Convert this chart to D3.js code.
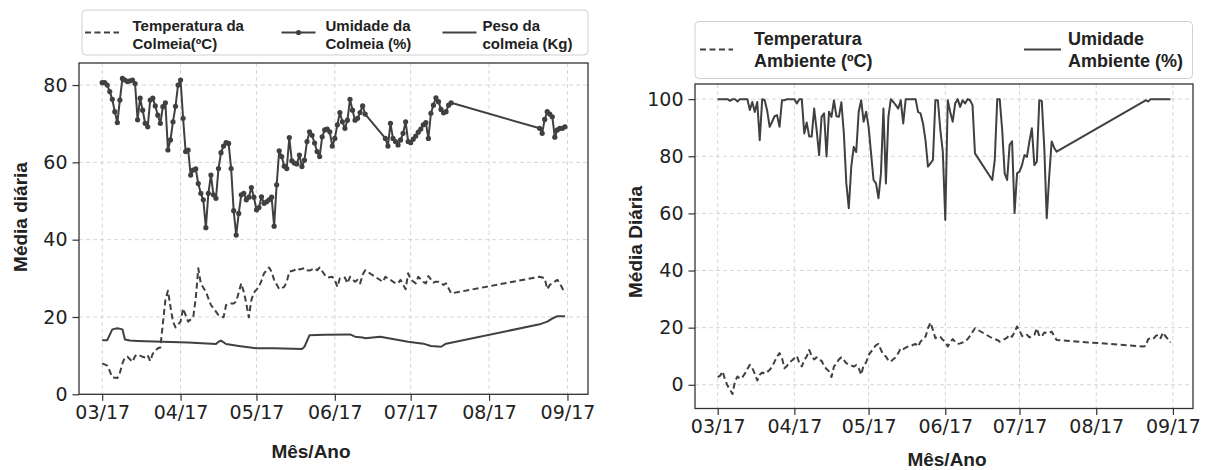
<!DOCTYPE html>
<html>
<head>
<meta charset="utf-8">
<script src="https://cdn.jsdelivr.net/npm/d3@7"></script>
<style>
  body { margin: 0; background: #fff; }
  svg { display: block; }
</style>
</head>
<body>
<svg id="chart" width="1213" height="470"></svg>
<script>
// Daily means from 1 March 2017; each pair is [days since 1 March, value].
const startDate = new Date(2017, 2, 1);

const monthTicks = ["2017-03-01", "2017-04-01", "2017-05-01", "2017-06-01", "2017-07-01", "2017-08-01", "2017-09-01"];
const monthLabels = ["03/17", "04/17", "05/17", "06/17", "07/17", "08/17", "09/17"];
const hiveTicks = [0, 20, 40, 60, 80];
const ambientTicks = [0, 20, 40, 60, 80, 100];

// Hive humidity (%)
const hiveHumidity = [
  [0,80.6],[1,80.6],[2,80.0],[3,78.3],[4,76.3],[5,73.1],[6,70.3],[7,76.1],[8,81.7],[9,81.3],
  [10,80.9],[11,81.1],[12,81.3],[13,80.4],[14,71.0],[15,76.6],[16,73.5],[17,70.1],[18,69.2],[19,76.1],
  [20,76.6],[21,74.6],[22,72.2],[23,70.1],[24,74.4],[25,75.4],[26,63.2],[27,65.8],[28,70.5],[29,74.5],
  [30,80.0],[31,81.3],[32,71.4],[33,62.8],[34,63.2],[35,56.7],[36,58.0],[37,58.3],[38,54.5],[39,52.0],
  [40,50.3],[41,43.1],[42,52.0],[43,56.7],[44,51.6],[45,50.7],[46,58.4],[47,62.5],[48,64.2],[49,65.1],
  [50,64.9],[51,58.4],[52,47.5],[53,41.2],[54,46.8],[55,51.6],[56,52.0],[57,50.3],[58,51.0],[59,53.5],
  [60,51.0],[61,47.7],[62,48.3],[63,51.1],[64,49.4],[65,49.8],[66,50.3],[67,51.0],[68,43.5],[69,54.2],
  [70,63.0],[71,61.5],[72,59.0],[73,58.4],[74,66.4],[75,60.4],[76,59.8],[77,59.6],[78,61.9],[79,58.9],
  [80,60.6],[81,65.4],[82,67.9],[83,67.0],[84,65.0],[85,62.8],[86,61.5],[87,66.6],[88,68.4],[89,68.6],
  [90,67.9],[91,64.2],[92,66.2],[93,69.7],[94,72.9],[95,70.5],[96,68.8],[97,70.9],[98,76.3],[99,73.5],
  [100,70.9],[101,71.4],[102,72.9],[103,74.6],[104,72.5],
  [112,66.2],[113,64.2],[114,70.1],[115,66.2],[116,65.4],[117,64.5],[118,65.8],[119,67.5],
  [120,70.5],[121,65.4],[122,65.1],[123,66.0],[124,66.8],[125,67.8],[126,68.6],[127,69.7],[128,70.3],[129,66.2],
  [130,72.7],[131,74.8],[132,76.7],[133,75.7],[134,73.7],[135,72.8],[136,73.1],[137,74.8],[138,75.4],
  [173,68.8],[174,67.5],[175,71.1],[176,73.1],[177,72.5],[178,71.8],[179,66.5],[180,68.4],[181,68.8],[182,68.8],[183,69.2]
];

// Hive temperature (ºC)
const hiveTemperature = [
  [0,8.0],[2,7.4],[3,6.0],[4,4.4],[6,4.2],[7,5.6],[8,8.0],[9,9.5],[10,9.7],[12,8.4],[13,9.9],[14,10.3],
  [16,9.7],[17,9.5],[18,10.1],[19,8.6],[20,10.5],[22,11.9],[23,12.1],[24,18.3],[25,24.4],[26,26.8],
  [27,22.7],[28,18.8],[29,17.3],[31,18.8],[32,22.2],[33,20.5],[34,18.8],[36,19.9],[37,24.8],[38,32.6],
  [39,28.7],[41,26.5],[42,24.8],[43,23.1],[45,21.4],[46,20.5],[48,19.9],[49,23.1],[51,23.5],[52,23.5],
  [53,24.0],[55,28.7],[56,26.5],[57,23.5],[58,19.9],[59,24.4],[60,26.3],[62,27.8],[63,29.4],[64,31.3],
  [66,32.8],[67,31.7],[68,29.6],[70,27.2],[72,27.8],[73,29.1],[74,31.7],[76,32.1],[77,32.6],[78,32.3],
  [80,32.6],[81,32.1],[82,32.0],[84,32.6],[85,32.1],[86,32.8],[88,30.9],[89,30.2],[91,30.4],[92,29.6],
  [93,27.8],[94,30.0],[96,30.2],[97,28.7],[98,30.4],[100,29.1],[101,29.6],[102,28.7],[103,30.9],[104,32.1],
  [111,29.1],[112,30.4],[114,29.6],[116,28.7],[117,28.7],[118,29.6],[120,27.2],[121,31.3],[122,29.7],
  [124,28.7],[125,30.4],[127,29.1],[128,28.7],[129,30.6],[131,28.9],[132,29.1],[133,29.1],[135,28.3],
  [136,28.7],[137,27.4],[138,26.1],
  [173,30.4],[175,30.0],[176,27.2],[177,28.3],[178,28.7],[180,29.6],[181,28.7],[183,26.1]
];

// Hive weight (kg)
const hiveWeight = [
  [0,14.0],[2,14.0],[4,16.8],[6,17.1],[8,16.8],[9,14.2],[11,13.9],[14,13.8],[24,13.6],[34,13.4],
  [45,13.0],[46,13.6],[47,13.9],[49,13.0],[54,12.5],[61,11.9],[68,11.9],[79,11.7],[80,12.3],[82,15.3],
  [88,15.4],[98,15.5],[100,14.9],[103,14.7],[104,14.5],[110,14.9],[116,14.2],[121,13.6],[127,13.1],
  [130,12.5],[134,12.3],[136,13.1],
  [173,18.1],[176,18.8],[178,19.6],[180,20.2],[183,20.2]
];

// Ambient temperature (ºC)
const ambientTemperature = [
  [0,2.7],[1,3.2],[2,4.7],[3,1.7],[4,-0.3],[5,-1.7],[6,-3.2],[7,1.2],[8,2.9],[9,2.1],
  [10,2.7],[11,3.9],[12,5.5],[13,7.0],[14,5.8],[15,3.9],[16,1.5],[17,3.5],[18,4.3],[19,3.9],
  [20,4.5],[21,5.2],[22,6.4],[23,8.1],[24,9.9],[25,11.1],[26,9.3],[27,5.8],[28,6.6],[29,7.8],
  [30,8.5],[31,9.3],[32,10.1],[33,7.6],[34,6.4],[35,8.7],[36,9.9],[37,12.2],[38,10.1],[39,8.9],
  [40,9.6],[41,8.7],[42,8.4],[43,6.6],[44,5.5],[45,4.7],[46,2.7],[47,6.4],[48,7.5],[49,8.9],
  [50,9.6],[51,8.7],[52,7.5],[53,7.3],[54,6.8],[55,6.4],[56,6.9],[57,5.8],[58,3.5],[59,6.9],
  [60,7.8],[61,10.4],[62,11.6],[63,12.8],[64,13.9],[65,14.3],[66,12.2],[67,10.5],[68,9.9],[69,8.5],
  [70,8.1],[71,9.0],[72,9.6],[73,11.1],[74,12.8],[75,12.5],[76,13.0],[77,13.4],[78,13.6],[79,14.0],
  [80,14.3],[81,13.4],[82,15.1],[83,16.0],[84,16.8],[85,19.8],[86,21.8],[87,19.2],[88,16.3],[89,16.8],
  [90,16.8],[91,15.7],[92,15.1],[93,13.4],[94,14.8],[95,16.0],[96,15.1],[97,14.3],[98,14.5],[99,14.8],
  [100,15.1],[101,16.0],[102,17.1],[103,18.5],[104,19.8],
  [111,16.3],[112,16.0],[113,15.7],[114,15.1],[115,15.5],[116,16.0],[117,16.5],[118,17.5],[119,16.8],
  [120,18.5],[121,20.4],[122,19.0],[123,17.1],[124,16.9],[125,17.5],[126,16.6],[127,17.1],[128,17.5],[129,19.8],
  [130,17.1],[131,16.9],[132,18.3],[133,18.1],[134,18.1],[135,18.6],[136,17.1],[137,15.7],
  [172,13.4],[173,13.6],[174,16.0],[175,16.3],[176,16.0],[177,17.0],[178,17.5],[179,16.3],[180,18.3],
  [181,17.0],[182,16.0],[183,14.8]
];

// Ambient humidity (%)
const ambientHumidity = [
  [0,100],[1,100],[2,100],[3,100],[4,100],[5,99.4],[6,100],[7,100],[8,99.2],[9,100],
  [10,100],[11,100],[12,100],[13,96.2],[14,99.0],[15,95.5],[16,99.0],[17,85.6],[18,100],[19,99.6],
  [20,96.0],[21,90.3],[22,92.1],[23,94.0],[24,94.4],[25,90.3],[26,99.6],[27,99.6],[28,100],[29,100],
  [30,100],[31,100],[32,98.5],[33,100],[34,100],[35,88.0],[36,91.8],[37,86.9],[38,86.9],[39,96.7],
  [40,89.2],[41,80.4],[42,93.8],[43,95.0],[44,79.9],[45,95.6],[46,93.8],[47,99.6],[48,94.0],[49,93.8],
  [50,98.9],[51,88.0],[52,70.5],[53,61.8],[54,76.4],[55,83.3],[56,81.5],[57,95.6],[58,99.6],[59,92.1],
  [60,95.6],[61,90.3],[62,81.0],[63,71.7],[64,70.5],[65,65.3],[66,74.0],[67,96.7],[68,70.5],[69,93.8],
  [70,100],[71,99.0],[72,97.9],[73,96.7],[74,99.6],[75,91.5],[76,100],[77,100],[78,100],[79,100],
  [80,100],[81,95.5],[82,95.0],[83,91.5],[84,85.6],[85,76.4],[86,77.5],[87,78.7],[88,99.6],[89,99.6],
  [90,89.2],[91,81.6],[92,57.7],[93,99.6],[94,95.5],[95,92.1],[96,98.5],[97,100],[98,97.3],[99,99.6],
  [100,98.5],[101,100],[102,99.6],[103,97.9],[104,81.0],
  [111,71.7],[112,78.7],[113,100],[114,100],[115,89.2],[116,74.0],[117,71.7],[118,84.0],[119,85.2],
  [120,60.1],[121,74.0],[122,74.6],[123,76.9],[124,80.4],[125,79.8],[126,85.2],[127,89.8],[128,76.9],[129,78.1],
  [130,99.6],[131,99.4],[132,83.3],[133,58.3],[134,72.9],[135,85.2],[136,83.0],[137,81.6],
  [173,99.6],[174,99.2],[175,100],[176,100],[177,100],[178,100],[179,100],[180,100],[181,100],[182,100],[183,100]
];

const svg = d3.select("#chart");
const ink = "#404040";
const tickFont = "'DejaVu Sans', sans-serif";
const boldFont = "'Liberation Sans', Arial, sans-serif";

const toDate = d => d3.timeDay.offset(startDate, d);
const parse = d3.timeParse("%Y-%m-%d");
const tickDates = monthTicks.map(parse);
const xDomain = [d3.timeHour.offset(startDate, -9.15 * 24), d3.timeHour.offset(startDate, 192.15 * 24)];

function panel(box, yDomain, yTicks) {
  const x = d3.scaleTime().domain(xDomain).range([box.left, box.right]);
  const y = d3.scaleLinear().domain(yDomain).range([box.bottom, box.top]);
  const g = svg.append("g");

  // dashed grid
  g.append("g").selectAll("line").data(tickDates).join("line")
    .attr("x1", d => x(d)).attr("x2", d => x(d))
    .attr("y1", box.top).attr("y2", box.bottom)
    .attr("stroke", "#d6d6d6").attr("stroke-width", 1).attr("stroke-dasharray", "4,3");
  g.append("g").selectAll("line").data(yTicks).join("line")
    .attr("x1", box.left).attr("x2", box.right)
    .attr("y1", d => y(d)).attr("y2", d => y(d))
    .attr("stroke", "#d6d6d6").attr("stroke-width", 1).attr("stroke-dasharray", "4,3");

  // axes
  const xAxis = d3.axisBottom(x).tickValues(tickDates)
    .tickFormat((d, i) => monthLabels[i]).tickSize(6.5).tickPadding(5);
  const yAxis = d3.axisLeft(y).tickValues(yTicks).tickSize(6.5).tickPadding(5);
  const gx = g.append("g").attr("transform", `translate(0,${box.bottom})`).call(xAxis);
  const gy = g.append("g").attr("transform", `translate(${box.left},0)`).call(yAxis);
  [gx, gy].forEach(a => {
    a.select(".domain").remove();
    a.selectAll(".tick line").attr("stroke", "#333").attr("stroke-width", 1.2);
    a.selectAll(".tick text").attr("fill", "#222")
      .style("font-family", tickFont).style("font-size", "19px");
  });

  // frame
  g.append("rect").attr("x", box.left).attr("y", box.top)
    .attr("width", box.right - box.left).attr("height", box.bottom - box.top)
    .attr("fill", "none").attr("stroke", "#333").attr("stroke-width", 1.3);

  const plot = g.append("g");
  return { x, y, plot };
}

function drawLine(p, data, dash) {
  const line = d3.line().x(d => p.x(toDate(d[0]))).y(d => p.y(d[1]));
  p.plot.append("path").datum(data)
    .attr("d", line).attr("fill", "none")
    .attr("stroke", ink).attr("stroke-width", 2)
    .attr("stroke-linejoin", "round")
    .attr("stroke-dasharray", dash || null);
}

// ---- hive panel ----
const hive = panel({ left: 79, right: 588, top: 63, bottom: 394.3 }, [0, 85.7], hiveTicks);
drawLine(hive, hiveTemperature, "6,3.5");
drawLine(hive, hiveWeight);
drawLine(hive, hiveHumidity);
hive.plot.append("g").selectAll("circle").data(hiveHumidity).join("circle")
  .attr("cx", d => hive.x(toDate(d[0]))).attr("cy", d => hive.y(d[1]))
  .attr("r", 2.6).attr("fill", ink);

// ---- ambient panel ----
const amb = panel({ left: 695, right: 1193, top: 84, bottom: 408.5 }, [-8.3, 105.3], ambientTicks);
drawLine(amb, ambientTemperature, "6,3.5");
drawLine(amb, ambientHumidity);

// axis titles
function title(txt, x, y, rot) {
  svg.append("text").text(txt)
    .attr("transform", `translate(${x},${y})` + (rot ? " rotate(-90)" : ""))
    .attr("text-anchor", "middle")
    .attr("fill", "#222").style("font-family", boldFont)
    .style("font-weight", "bold").style("font-size", "19px");
}
title("Mês/Ano", 311, 458, false);
title("Média diária", 27, 217, true);
title("Mês/Ano", 947, 466, false);
title("Média Diária", 642, 242, true);

// legends
function legendBox(x0, y0, x1, y1) {
  svg.append("rect").attr("x", x0).attr("y", y0)
    .attr("width", x1 - x0).attr("height", y1 - y0).attr("rx", 4)
    .attr("fill", "#fff").attr("stroke", "#d0d0d0").attr("stroke-width", 1);
}
function legendText(lines, x, y, size, gap) {
  const t = svg.append("text").attr("fill", "#222")
    .style("font-family", boldFont).style("font-weight", "bold").style("font-size", size + "px");
  lines.forEach((s, i) => t.append("tspan").attr("x", x).attr("y", y + i * gap).text(s));
}
function legendHandle(x0, x1, y, dash, marker) {
  svg.append("line").attr("x1", x0).attr("x2", x1).attr("y1", y).attr("y2", y)
    .attr("stroke", ink).attr("stroke-width", 2).attr("stroke-dasharray", dash || null);
  if (marker) svg.append("circle").attr("cx", (x0 + x1) / 2).attr("cy", y).attr("r", 2.6).attr("fill", ink);
}

const hiveLegend = [
  { lines: ["Temperatura da", "Colmeia(ºC)"], h: [85, 119], t: 132.5, dash: "6,3.5" },
  { lines: ["Umidade da", "Colmeia (%)"], h: [281.5, 315.5], t: 325.5, marker: true },
  { lines: ["Peso da", "colmeia (Kg)"], h: [442.5, 476.5], t: 482.5 }
];
legendBox(82, 10, 588, 55);
hiveLegend.forEach(e => {
  legendHandle(e.h[0], e.h[1], 32.5, e.dash, e.marker);
  legendText(e.lines, e.t, 30.5, 15, 18);
});

const ambientLegend = [
  { lines: ["Temperatura", "Ambiente (ºC)"], h: [700, 733], t: 754, dash: "6,3.5" },
  { lines: ["Umidade", "Ambiente (%)"], h: [1024, 1061], t: 1068 }
];
legendBox(695, 21.5, 1192.5, 78.5);
ambientLegend.forEach(e => {
  legendHandle(e.h[0], e.h[1], 49.5, e.dash);
  legendText(e.lines, e.t, 45, 18, 21.7);
});
</script>
</body>
</html>
